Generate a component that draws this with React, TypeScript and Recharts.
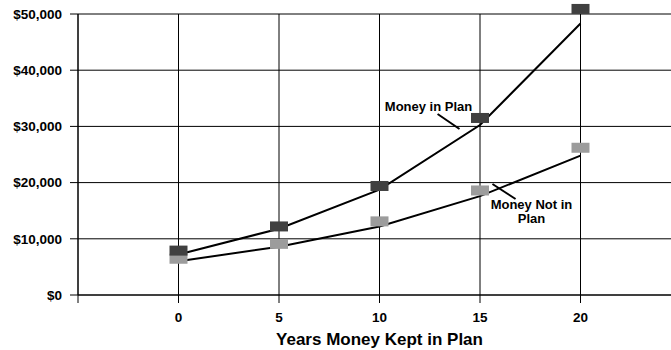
import React from 'react';
import {
  LineChart,
  Line,
  XAxis,
  YAxis,
  CartesianGrid,
  ReferenceLine,
  ReferenceDot,
} from 'recharts';

// years on the x axis
const years = [0, 5, 10, 15, 20];
// square markers (the plotted values)
const planValues = [7900, 12200, 19400, 31500, 50900];
const noPlanValues = [6450, 9100, 13100, 18600, 26200];
// growth lines drawn through the points
const planCurve = [7200, 11800, 18750, 30250, 48300];
const noPlanCurve = [6000, 8600, 12200, 17600, 24800];

const xTicks = [-5, 0, 5, 10, 15, 20, 25];
const yTicks = [0, 10000, 20000, 30000, 40000, 50000];

const data = years.map((year, i) => ({
  year,
  plan: planValues[i],
  noPlan: noPlanValues[i],
  planCurve: planCurve[i],
  noPlanCurve: noPlanCurve[i],
}));

const FONT = '"Liberation Sans", Arial, sans-serif';
const DARK = '#404040';
const LIGHT = '#9c9c9c';

const markerLabel = (fill: string) => (props: any) => {
  const x = props.viewBox?.x ?? props.x;
  const y = props.viewBox?.y ?? props.y;
  if (typeof x !== 'number' || typeof y !== 'number') return null;
  return <rect x={x - 9} y={y - 5} width={18} height={10} fill={fill} />;
};

const noteText = (lines: string[]) => (props: any) => (
  <text
    x={props.cx}
    y={props.cy}
    textAnchor="middle"
    fontFamily={FONT}
    fontWeight="bold"
    fontSize={13}
    fill="#000"
  >
    {lines.map((t, i) => (
      <tspan key={t} x={props.cx} dy={i === 0 ? 0 : 14}>
        {t}
      </tspan>
    ))}
  </text>
);

const App: React.FC = () => {
  return (
    <div style={{ position: 'absolute', left: 0, top: 0, width: 671, height: 350, overflow: 'hidden', background: '#fff' }}>
      <LineChart width={681} height={350} data={data} margin={{ top: 14, right: 0, bottom: 0, left: 0 }}>
        <CartesianGrid stroke="#000" strokeWidth={1} />
        <XAxis
          dataKey="year"
          type="number"
          domain={[-5, 25]}
          ticks={xTicks}
          interval={0}
          tickFormatter={(v: number) => (v < 0 || v > 20 ? '' : String(v))}
          height={55}
          tickSize={8}
          tickMargin={9}
          stroke="#000"
          tick={{ fill: '#000', fontFamily: FONT, fontWeight: 'bold', fontSize: 13.5 }}
          label={{
            value: 'Years Money Kept in Plan',
            position: 'insideBottom',
            offset: 5,
            style: { fill: '#000', fontFamily: FONT, fontWeight: 'bold', fontSize: 17 },
          }}
        />
        <YAxis
          type="number"
          domain={[0, 50000]}
          allowDataOverflow
          ticks={yTicks}
          interval={0}
          width={78}
          tickSize={8}
          tickMargin={8}
          stroke="#000"
          tickFormatter={(v: number) => `$${v.toLocaleString('en-US')}`}
          tick={{ fill: '#000', fontFamily: FONT, fontWeight: 'bold', fontSize: 13.5 }}
        />
        <Line
          dataKey="noPlan"
          stroke="none"
          dot={false}
          activeDot={false}
          isAnimationActive={false}
          label={markerLabel(LIGHT)}
        />
        <Line
          dataKey="plan"
          stroke="none"
          dot={false}
          activeDot={false}
          isAnimationActive={false}
          label={markerLabel(DARK)}
        />
        <Line
          dataKey="noPlanCurve"
          type="linear"
          stroke="#000"
          strokeWidth={2}
          dot={false}
          activeDot={false}
          isAnimationActive={false}
        />
        <Line
          dataKey="planCurve"
          type="linear"
          stroke="#000"
          strokeWidth={2}
          dot={false}
          activeDot={false}
          isAnimationActive={false}
        />
        <ReferenceLine
          segment={[{ x: 12.89, y: 32200 }, { x: 13.98, y: 29540 }]}
          stroke="#000"
          strokeWidth={2}
        />
        <ReferenceLine
          segment={[{ x: 15.62, y: 19750 }, { x: 16.77, y: 17080 }]}
          stroke="#000"
          strokeWidth={2}
        />
        <ReferenceDot x={12.44} y={32740} r={0} shape={noteText(['Money in Plan'])} />
        <ReferenceDot x={17.56} y={15300} r={0} shape={noteText(['Money Not in', 'Plan'])} />
      </LineChart>
    </div>
  );
};

export default App;
